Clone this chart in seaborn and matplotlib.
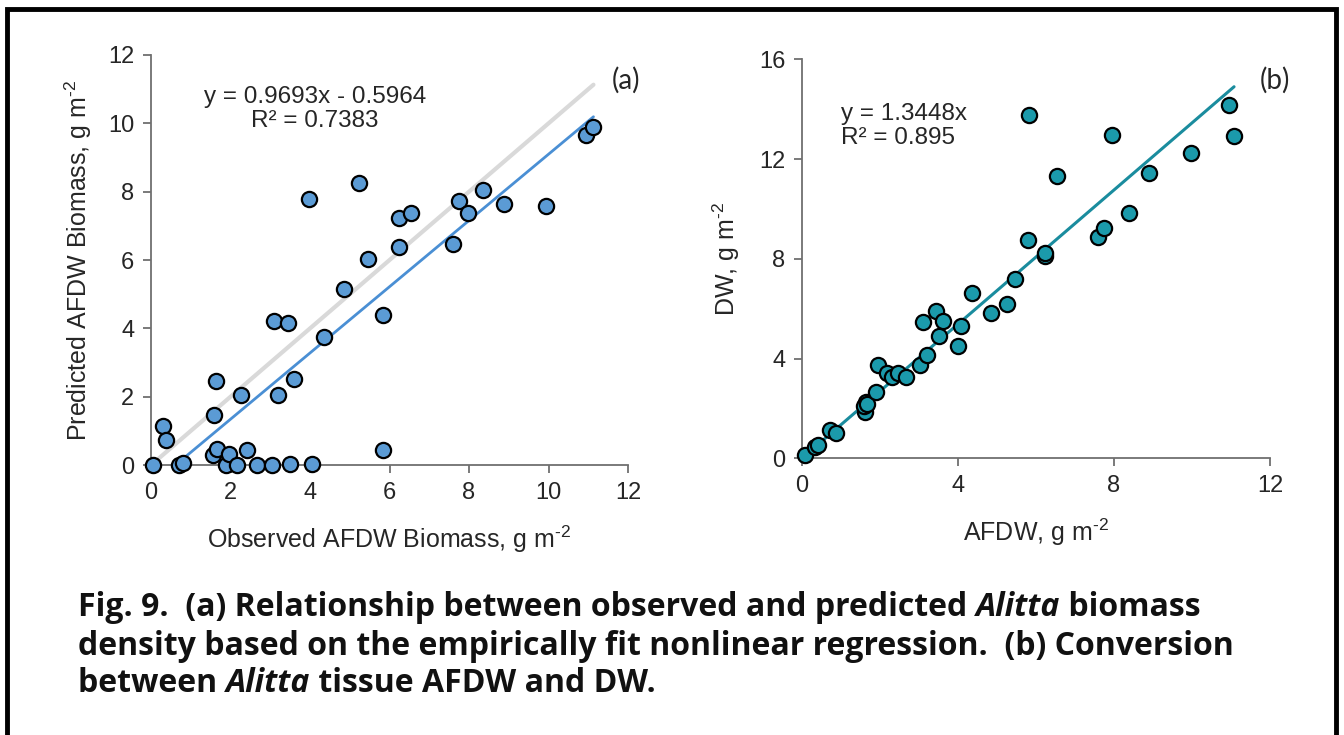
import numpy as np
import pandas as pd
import seaborn as sns
import matplotlib.pyplot as plt
from matplotlib.patches import Rectangle

# panel (a): observed vs predicted AFDW biomass
obs_a = [0.05, 0.3, 0.38, 0.7, 0.8, 1.58, 1.64, 1.55, 1.65, 1.89, 1.97, 2.17, 2.25, 2.42,
         2.66, 3.04, 3.09, 3.44, 3.19, 3.5, 3.6, 3.98, 4.06, 4.36, 4.86, 5.23, 5.45, 5.84,
         5.84, 6.23, 6.23, 6.55, 7.6, 7.75, 7.97, 8.36, 8.89, 9.93, 10.94, 11.13]
pred_a = [0.0, 1.15, 0.73, 0.0, 0.05, 1.47, 2.45, 0.29, 0.46, 0.0, 0.31, 0.0, 2.05, 0.44,
          0.0, 0.0, 4.21, 4.17, 2.05, 0.03, 2.52, 7.78, 0.03, 3.74, 5.16, 8.26, 6.02, 4.38,
          0.44, 6.39, 7.24, 7.37, 6.46, 7.72, 7.37, 8.06, 7.65, 7.58, 9.65, 9.88]
slope_a, icpt_a = 0.9693, -0.5964

# panel (b): AFDW vs DW
afdw_b = [0.08, 0.33, 0.42, 0.72, 0.87, 1.62, 1.64, 1.59, 1.67, 1.9, 1.96, 2.19, 2.3, 2.47,
          2.68, 3.03, 3.2, 3.11, 3.44, 3.61, 3.52, 3.99, 4.09, 4.35, 4.85, 5.26, 5.46, 5.8,
          5.83, 6.24, 6.24, 6.55, 7.6, 7.74, 7.96, 8.39, 8.89, 9.97, 10.96, 11.08]
dw_b = [0.13, 0.44, 0.53, 1.13, 1.0, 1.84, 2.24, 2.1, 2.17, 2.65, 3.74, 3.43, 3.25, 3.41,
        3.27, 3.74, 4.14, 5.48, 5.92, 5.52, 4.9, 4.52, 5.3, 6.64, 5.81, 6.19, 7.2, 8.75,
        13.75, 8.11, 8.22, 11.33, 8.89, 9.22, 12.96, 9.85, 11.43, 12.25, 14.17, 12.92]
slope_b = 1.3448

df_a = pd.DataFrame({"obs": obs_a, "pred": pred_a})
df_b = pd.DataFrame({"afdw": afdw_b, "dw": dw_b})

sns.set_style("white")
plt.rcParams['font.family'] = ['Liberation Sans', 'DejaVu Sans']
plt.rcParams['mathtext.fontset'] = 'custom'
plt.rcParams['mathtext.rm'] = 'Liberation Sans'
plt.rcParams['mathtext.it'] = 'Liberation Sans:italic'

fig = plt.figure(figsize=(13.44, 7.35), dpi=100)
ax1 = fig.add_axes([0.1124, 0.3673, 0.3549, 0.5579])
ax2 = fig.add_axes([0.5967, 0.3765, 0.3482, 0.5428])

txt_col = "#262626"
spine_col = "#6f6f6f"
for ax in (ax1, ax2):
    for s in ["top", "right"]:
        ax.spines[s].set_visible(False)
    for s in ["left", "bottom"]:
        ax.spines[s].set_color(spine_col)
        ax.spines[s].set_linewidth(1.3)
    ax.tick_params(axis="both", direction="out", length=6, width=1.3, color=spine_col,
                   labelsize=17, labelcolor=txt_col, pad=6)
    ax.tick_params(axis="y", left=True)
    ax.tick_params(axis="x", bottom=True)

unit = "g m$^{\\mathregular{\u2010}\\mathregular{2}}$"

# (a)
xa = np.array([min(obs_a), max(obs_a)])
ax1.plot([0, max(obs_a)], [0, max(obs_a)], color="#d9d9d9", lw=3, zorder=1)
ax1.plot(xa, slope_a * xa + icpt_a, color="#4a8fd4", lw=2, zorder=2)
sns.scatterplot(data=df_a, x="obs", y="pred", ax=ax1, s=120, color="#5b9bd5",
                edgecolor="black", linewidth=1.6, zorder=3, clip_on=False)
ax1.set_xlim(0, 12)
ax1.set_ylim(0, 12)
ax1.set_xticks(range(0, 13, 2))
ax1.set_yticks(range(0, 13, 2))
ax1.set_xlabel("Observed AFDW Biomass, " + unit, fontsize=18, color=txt_col, labelpad=14)
ax1.set_ylabel("Predicted AFDW Biomass, " + unit, fontsize=18, color=txt_col, labelpad=10)
ax1.text(0.344, 0.868, "y = 0.9693x - 0.5964\nR² = 0.7383", transform=ax1.transAxes,
         ha="center", va="center", fontsize=17.5, color=txt_col, linespacing=1.1,
         multialignment="center")
fig.text(0.455, 0.891, "(a)", fontsize=20, family="Lato", ha="left", va="center")

# (b)
xb = np.array([0, max(afdw_b)])
ax2.plot(xb, slope_b * xb, color="#1a8c9e", lw=2.2, zorder=2)
sns.scatterplot(data=df_b, x="afdw", y="dw", ax=ax2, s=120, color="#1b9aab",
                edgecolor="black", linewidth=1.6, zorder=3, clip_on=False)
ax2.set_xlim(0, 12)
ax2.set_ylim(0, 16)
ax2.set_xticks(range(0, 13, 4))
ax2.set_yticks(range(0, 17, 4))
ax2.set_xlabel("AFDW, " + unit, fontsize=18, color=txt_col, labelpad=14)
ax2.set_ylabel("DW, " + unit, fontsize=18, color=txt_col, labelpad=12)
ax2.text(0.083, 0.833, "y = 1.3448x\nR² = 0.895", transform=ax2.transAxes,
         ha="left", va="center", fontsize=17.5, color=txt_col, linespacing=1.1)
fig.text(0.9375, 0.891, "(b)", fontsize=20, family="Lato", ha="left", va="center")

# caption, pieced together so the genus name can be italic
caption = [
    [("Fig. 9.  (a) Relationship between observed and predicted ", "normal"),
     ("Alitta", "italic"), (" biomass", "normal")],
    [("density based on the empirically fit nonlinear regression.  (b) Conversion", "normal")],
    [("between ", "normal"), ("Alitta", "italic"), (" tissue AFDW and DW.", "normal")],
]
line_y = [0.174, 0.121, 0.070]
fig.canvas.draw()
renderer = fig.canvas.get_renderer()
for pieces, yy in zip(caption, line_y):
    xx = 78 / 1344
    for txt, style in pieces:
        t = fig.text(xx, yy, txt, fontsize=23, fontweight="bold", style=style,
                     family="Open Sans", color="#111111", ha="left", va="center")
        bb = t.get_window_extent(renderer=renderer)
        xx += bb.width / fig.bbox.width

fig.patches.append(Rectangle((7 / 1344, -0.05), 1329 / 1344, 1.05 - 9 / 735,
                             transform=fig.transFigure, fill=False, lw=3.5,
                             edgecolor="black"))

fig.savefig("out.png", dpi=100)
